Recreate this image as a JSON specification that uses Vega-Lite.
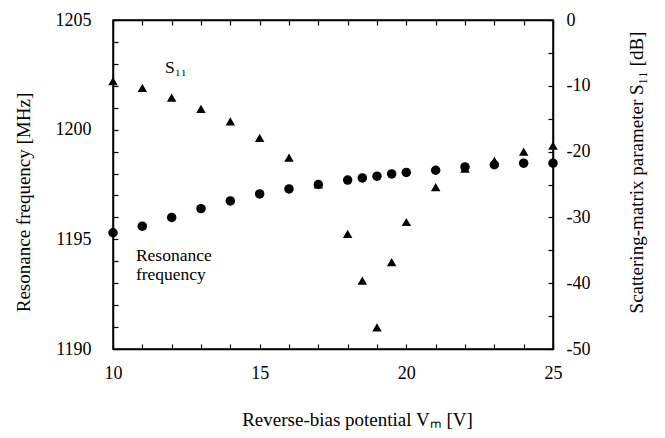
{
  "$schema": "https://vega.github.io/schema/vega-lite/v6.json",
  "width": 440,
  "height": 329,
  "autosize": {"type": "none"},
  "padding": {"left": 113, "top": 20, "right": 112, "bottom": 89},
  "background": "white",
  "config": {
    "view": {"stroke": "black", "strokeWidth": 1.5},
    "font": "Liberation Serif",
    "axis": {
      "labelFont": "Liberation Serif",
      "titleFont": "Liberation Serif",
      "labelFontSize": 18,
      "titleFontSize": 19,
      "titleFontWeight": "normal",
      "labelColor": "black",
      "titleColor": "black",
      "domainColor": "black",
      "tickColor": "black",
      "domainWidth": 1.5,
      "tickWidth": 1.2,
      "labelFlush": false,
      "labelOverlap": false,
      "grid": false
    }
  },
  "datasets": {
    "freq": [
      {"v": 10, "f": 1195.3}, {"v": 11, "f": 1195.6}, {"v": 12, "f": 1196.0},
      {"v": 13, "f": 1196.4}, {"v": 14, "f": 1196.75}, {"v": 15, "f": 1197.07},
      {"v": 16, "f": 1197.3}, {"v": 17, "f": 1197.5}, {"v": 18, "f": 1197.7},
      {"v": 18.5, "f": 1197.8}, {"v": 19, "f": 1197.88}, {"v": 19.5, "f": 1197.98},
      {"v": 20, "f": 1198.05}, {"v": 21, "f": 1198.15}, {"v": 22, "f": 1198.3},
      {"v": 23, "f": 1198.4}, {"v": 24, "f": 1198.47}, {"v": 25, "f": 1198.47}
    ],
    "s11": [
      {"v": 10, "s": -9.3}, {"v": 11, "s": -10.3}, {"v": 12, "s": -11.8},
      {"v": 13, "s": -13.5}, {"v": 14, "s": -15.4}, {"v": 15, "s": -17.9},
      {"v": 16, "s": -20.9}, {"v": 17, "s": -25.0}, {"v": 18, "s": -32.5},
      {"v": 18.5, "s": -39.6}, {"v": 19, "s": -46.7}, {"v": 19.5, "s": -36.8},
      {"v": 20, "s": -30.7}, {"v": 21, "s": -25.4}, {"v": 22, "s": -22.6},
      {"v": 23, "s": -21.4}, {"v": 24, "s": -20.0}, {"v": 25, "s": -19.1}
    ],
    "labels": [
      {"v": 11.77, "f": 1202.6, "t": "S₁₁"},
      {"v": 10.78, "f": 1194.0, "t": ["Resonance", "frequency"]}
    ]
  },
  "layer": [
    {
      "data": {"name": "freq"},
      "mark": {"type": "circle", "size": 90, "color": "black", "opacity": 1},
      "encoding": {
        "x": {
          "field": "v", "type": "quantitative",
          "scale": {"domain": [10, 25], "nice": false, "zero": false},
          "axis": {
            "orient": "bottom",
            "title": "Reverse-bias potential Vₘ [V]",
            "values": [10,11,12,13,14,15,16,17,18,19,20,21,22,23,24,25],
            "labelExpr": "datum.value % 5 === 0 ? datum.label : ''",
            "tickSize": -5,
            "labelPadding": 20,
            "titlePadding": 28,
            "titleX": 244
          }
        },
        "y": {
          "field": "f", "type": "quantitative",
          "scale": {"domain": [1190, 1205], "nice": false, "zero": false},
          "axis": {
            "orient": "left",
            "title": "Resonance frequency [MHz]",
            "format": "d",
            "values": [1190,1191,1192,1193,1194,1195,1196,1197,1198,1199,1200,1201,1202,1203,1204,1205],
            "labelExpr": "datum.value % 5 === 0 ? datum.label : ''",
            "tickSize": -5,
            "labelPadding": 27,
            "titlePadding": 22,
            "titleY": 182
          }
        }
      }
    },
    {
      "data": {"name": "s11"},
      "mark": {"type": "point", "shape": "triangle-up", "size": 90, "filled": true, "color": "black", "opacity": 1},
      "encoding": {
        "x": {
          "field": "v", "type": "quantitative",
          "axis": {
            "orient": "top",
            "title": null,
            "values": [10,11,12,13,14,15,16,17,18,19,20,21,22,23,24,25],
            "labels": false,
            "tickSize": -5
          }
        },
        "y": {
          "field": "s", "type": "quantitative",
          "scale": {"domain": [-50, 0], "nice": false, "zero": false},
          "axis": {
            "orient": "right",
            "title": "Scattering-matrix parameter S₁₁ [dB]",
            "titleAngle": 270,
            "values": [0,-5,-10,-15,-20,-25,-30,-35,-40,-45,-50],
            "labelExpr": "datum.value % 10 === 0 ? '' + datum.value : ''",
            "tickSize": -5,
            "labelPadding": 18,
            "titlePadding": 57,
            "titleY": 152
          }
        }
      }
    },
    {
      "data": {"name": "labels"},
      "mark": {"type": "text", "align": "left", "baseline": "alphabetic", "fontSize": 17.5, "lineHeight": 19, "font": "Liberation Serif", "color": "black"},
      "encoding": {
        "x": {"field": "v", "type": "quantitative", "axis": null},
        "y": {"field": "f", "type": "quantitative", "axis": null, "scale": {"domain": [1190, 1205], "nice": false, "zero": false}},
        "text": {"field": "t"}
      }
    }
  ],
  "resolve": {"scale": {"y": "independent"}, "axis": {"x": "independent", "y": "independent"}}
}
